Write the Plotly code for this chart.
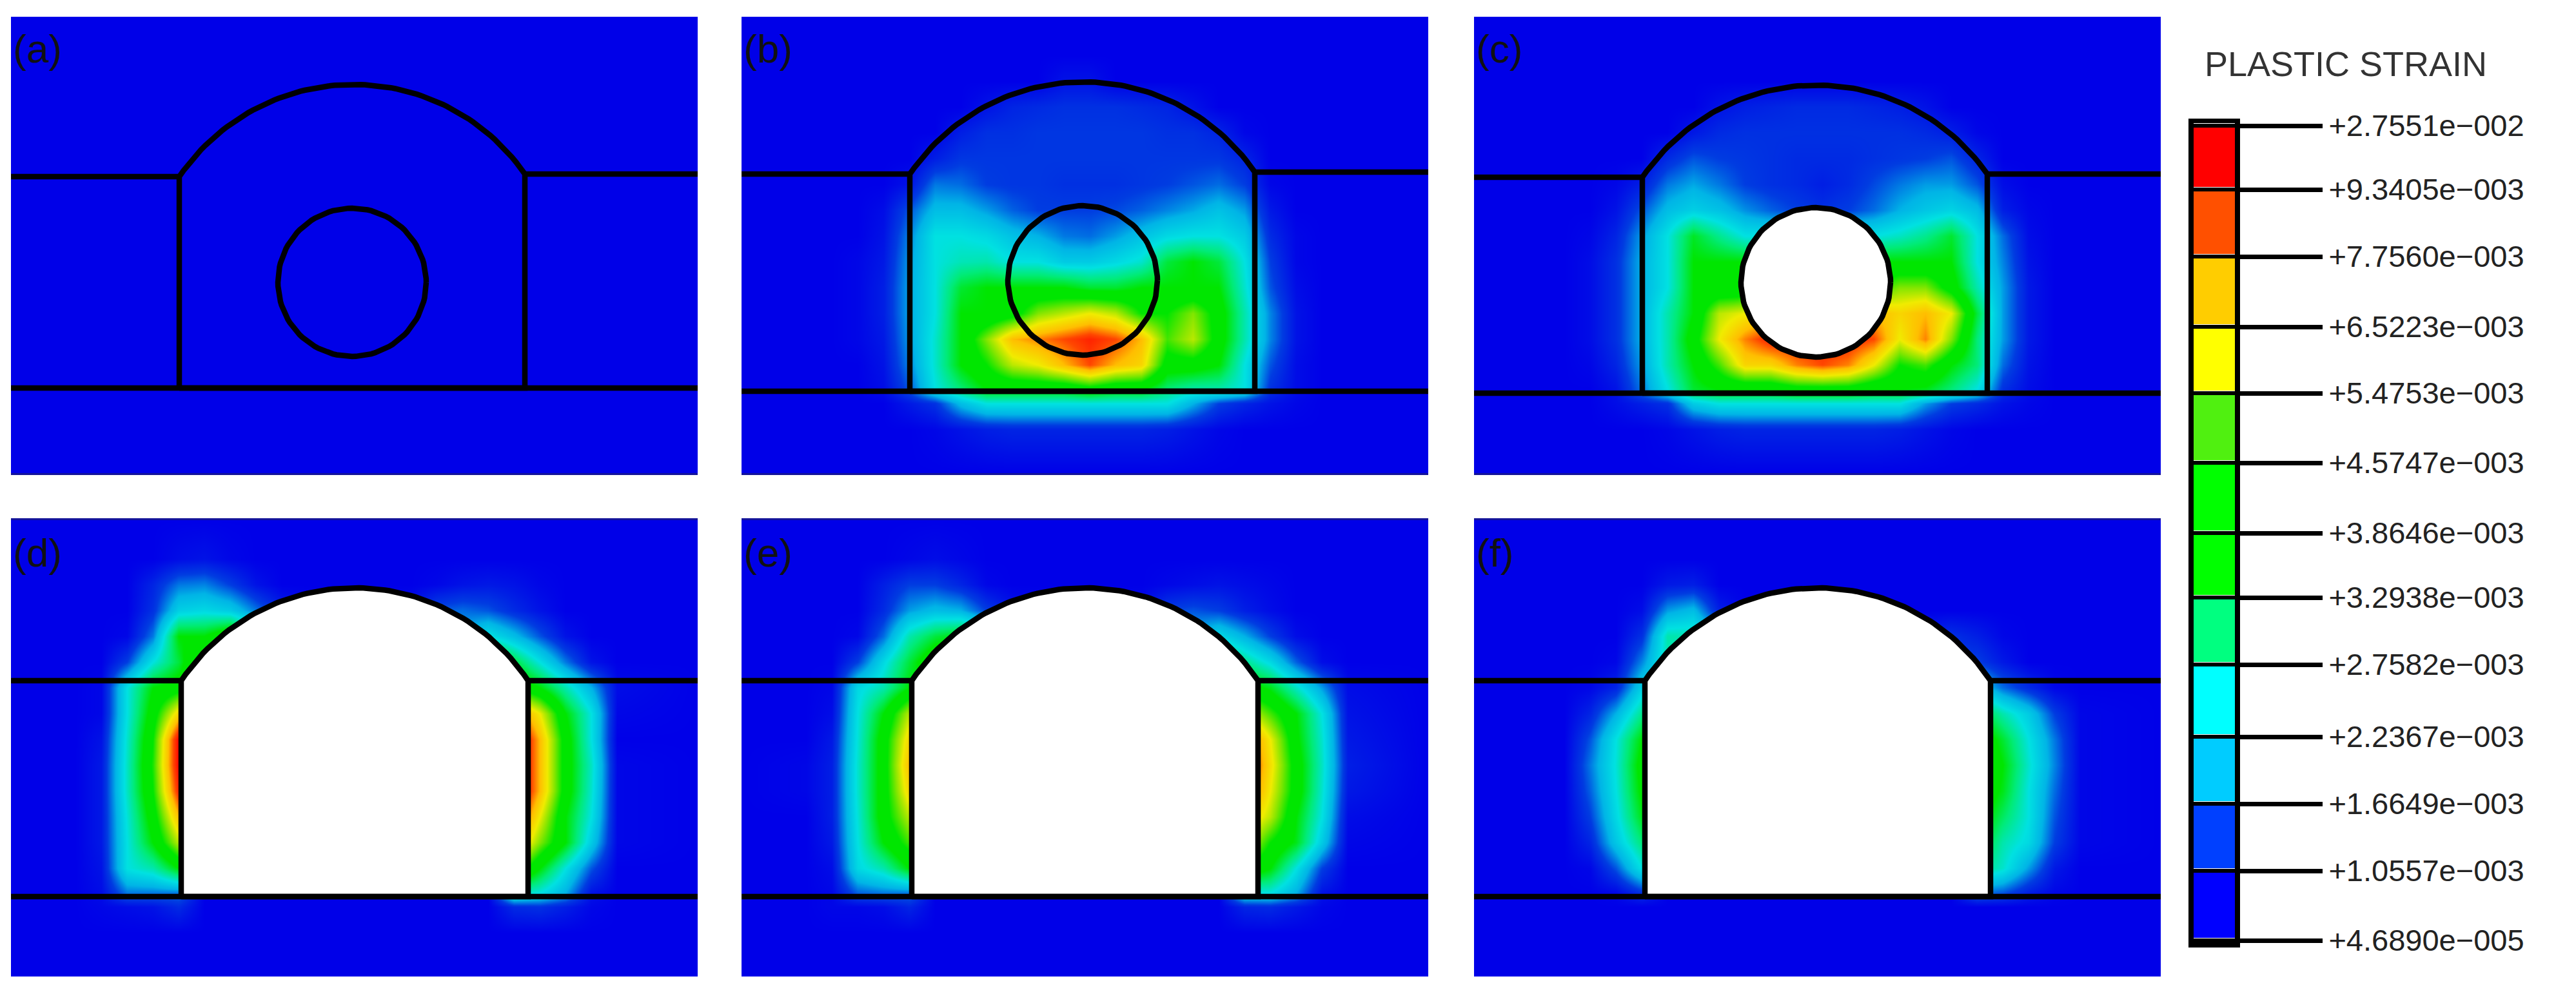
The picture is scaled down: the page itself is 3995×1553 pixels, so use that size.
import numpy as np
import plotly.graph_objects as go

FIG_W, FIG_H = 3995, 1553
PANEL_W, PANEL_H = 1065, 708
PANEL_LEFT = [17, 1150, 2286]
PANEL_TOP = [26, 807]

PANEL_LABELS = ["(a)", "(b)", "(c)", "(d)", "(e)", "(f)"]
LEGEND_TITLE = "PLASTIC STRAIN"
LEGEND_TEXT = ["+2.7551e\u2212002", "+9.3405e\u2212003", "+7.7560e\u2212003", "+6.5223e\u2212003",
               "+5.4753e\u2212003", "+4.5747e\u2212003", "+3.8646e\u2212003", "+3.2938e\u2212003",
               "+2.7582e\u2212003", "+2.2367e\u2212003", "+1.6649e\u2212003", "+1.0557e\u2212003",
               "+4.6890e\u2212005"]
LEGEND_TICK_Y = [195, 294, 398, 507, 610, 718, 827, 927, 1031, 1143, 1247, 1351, 1459]
LEGEND_BANDS = list(range(11, -1, -1))
BAND_COLORS = ["#0000ff", "#0040ff", "#00ccff", "#00ffff", "#00ff80", "#00ff00",
               "#00ff00", "#50f010", "#ffff00", "#ffcd00", "#ff5000", "#ff0000"]
# field colours run a bit darker than the legend in the source image
FIELD_COLORS = ["#0000e8", "#003ce1", "#00b4e6", "#00e1e1", "#00eb78", "#00e600", "#00e600",
                "#82e600", "#f0eb00", "#ffbe00", "#ff4600", "#ff0000", "#ff0000"]

# grid of the strain field, panel pixels; z below is the legend band level (0-12)
GRID_X = [0, 100, 140, 180, 220, 260, 300, 340, 380, 420, 460, 500, 540, 580, 620, 660, 700, 740, 780, 820, 860, 900, 940, 1065]
GRID_Y = [0, 60, 100, 140, 180, 220, 260, 300, 340, 380, 420, 460, 500, 540, 578, 600, 640, 708]
ZERO = [0] * 24

STRAIN_A = [ZERO] * 18

STRAIN_B = [
    ZERO, ZERO,
    [0, 0, 0, 0, 0, 0, 0, 0, 0, 0, 0, .3, .3, 0, 0, 0, 0, 0, 0, 0, 0, 0, 0, 0],
    [0, 0, 0, 0, 0, 0, 0, 0, .3, .6, .7, .8, .8, .8, .7, .6, .3, 0, 0, 0, 0, 0, 0, 0],
    [0, 0, 0, 0, 0, 0, 0, .5, .8, .8, .9, .9, .9, .9, .9, .8, .8, .6, .1, 0, 0, 0, 0, 0],
    [0, 0, 0, 0, 0, 0, .5, .9, .9, .9, .9, .9, .9, .9, .9, .9, .9, .9, .6, 0, 0, 0, 0, 0],
    [0, 0, 0, 0, 0, .3, 1.5, 1.4, 1, .9, .9, .8, .8, .8, .9, 1, 1.2, 1.4, 1, .1, 0, 0, 0, 0],
    [0, 0, 0, 0, .2, 1.2, 2.2, 2.2, 1.8, 1.3, 1, 1, 1, 1.1, 1.3, 1.6, 1.9, 2.3, 1.8, .4, 0, 0, 0, 0],
    [0, 0, 0, 0, .3, 1.6, 3, 3, 2.8, 2.3, 2, 1.5, 1.4, 1.8, 2.3, 2.8, 3, 3, 2.5, .7, .1, 0, 0, 0],
    [0, 0, 0, .1, .4, 1.8, 3, 3.4, 3.5, 3, 3, 2.5, 2.5, 2.8, 3.2, 4.5, 5, 4.5, 3, 1, .1, 0, 0, 0],
    [0, 0, 0, .1, .5, 1.9, 3, 4.6, 5, 5, 5, 5, 4.6, 4.6, 5, 5, 5, 5, 3.2, 1.2, .2, 0, 0, 0],
    [0, 0, 0, .1, .5, 1.9, 3, 5, 5, 5.5, 7, 7.5, 8, 7.5, 6, 6, 7, 5.5, 3.5, 1.6, .3, 0, 0, 0],
    [0, 0, 0, .1, .4, 1.8, 3.2, 5, 7, 9, 9.5, 10, 10.5, 10, 9, 6.5, 7.5, 5.5, 3.5, 1.6, .3, 0, 0, 0],
    [0, 0, 0, 0, .3, 1.6, 3.2, 5, 6, 7.5, 8, 9, 10, 9, 8.5, 5.5, 5.5, 5, 3, 1.2, .2, 0, 0, 0],
    [0, 0, 0, 0, .2, 1.2, 3, 4, 5, 5, 5, 5, 5.5, 5, 5, 4, 3.5, 3.5, 3, .8, .2, 0, 0, 0],
    [0, 0, 0, 0, 0, .4, .8, 2.2, 3, 3, 3, 3, 3, 3, 3, 3, 2, 1, .6, .3, .1, 0, 0, 0],
    [0, 0, 0, 0, 0, 0, .1, .3, .5, .6, .6, .6, .6, .6, .6, .5, .3, .1, 0, 0, 0, 0, 0, 0],
    ZERO,
]

STRAIN_C = [
    ZERO, ZERO, ZERO,
    [0, 0, 0, 0, 0, 0, 0, 0, .3, .5, .6, .7, .7, .7, .6, .5, .3, 0, 0, 0, 0, 0, 0, 0],
    [0, 0, 0, 0, 0, 0, 0, .4, .7, .8, .8, .8, .8, .8, .8, .8, .7, .5, .1, 0, 0, 0, 0, 0],
    [0, 0, 0, 0, 0, 0, .7, 1.2, 1, .9, .8, .7, .7, .7, .8, .9, 1, 1.2, .6, 0, 0, 0, 0, 0],
    [0, 0, 0, 0, .1, .5, 1.5, 1.9, 1.5, 1, .8, .7, .5, .7, 1.1, 1.5, 1.8, 1.8, 1.2, .2, 0, 0, 0, 0],
    [0, 0, 0, 0, .3, 1.2, 2.2, 2.6, 2.3, 1.7, 1.3, 1, .8, 1, 1.4, 2, 2.4, 2.7, 2.2, .5, .1, 0, 0, 0],
    [0, 0, 0, .1, .6, 1.8, 3, 4.7, 3.8, 3, 3, 3, 3, 3, 3, 3.3, 3.8, 4.6, 3, 1.4, .2, 0, 0, 0],
    [0, 0, 0, .2, .8, 2, 3, 5, 5, 5, 4.5, 4.5, 4.5, 4.5, 5, 5, 5, 5, 3, 1.6, .3, 0, 0, 0],
    [0, 0, 0, .2, .8, 2, 3, 5, 5, 5, 5, 5, 5, 5, 6, 7, 7, 5.5, 3.5, 1.8, .4, 0, 0, 0],
    [0, 0, 0, .2, .8, 2, 3.5, 5, 7.5, 8, 8.5, 8.5, 8.5, 8.5, 9, 8.5, 9, 8, 4.5, 1.8, .4, 0, 0, 0],
    [0, 0, 0, .2, .8, 2, 3.5, 5.5, 8, 9.5, 10.5, 10.5, 10.5, 10.5, 10, 8, 9.5, 7, 4, 1.8, .4, 0, 0, 0],
    [0, 0, 0, .1, .6, 1.8, 3.5, 5, 6.5, 8.5, 8.5, 9.5, 10, 9.5, 8, 6, 6.5, 5, 4, 1.4, .3, 0, 0, 0],
    [0, 0, 0, 0, .3, 1.5, 3, 4.6, 5, 5, 5, 5.5, 5.5, 5.5, 5, 5, 4.8, 4, 3, .8, .2, 0, 0, 0],
    [0, 0, 0, 0, .2, .5, .8, 2.5, 3, 3, 3, 3, 3, 3, 3, 3, 1.8, 1, .7, .3, .1, 0, 0, 0],
    [0, 0, 0, 0, 0, 0, .1, .3, .5, .6, .6, .6, .6, .6, .6, .5, .3, .1, 0, 0, 0, 0, 0, 0],
    ZERO,
]

STRAIN_D = [
    ZERO,
    [0, 0, 0, 0, 0, .2, .3, .1, 0, 0, 0, 0, 0, 0, 0, 0, 0, 0, 0, 0, 0, 0, 0, 0],
    [0, 0, 0, 0, .6, 1.5, 1.6, 1, .3, 0, 0, 0, 0, 0, 0, .1, .3, .4, .3, .1, 0, 0, 0, 0],
    [0, 0, 0, 0, .8, 2.6, 2.8, 2.5, 1.5, .5, .1, 0, 0, .1, .3, 1.2, 1.4, 1.2, .7, .3, 0, 0, 0, 0],
    [0, 0, 0, .1, 1.5, 5, 5, 6, 4, 2, 1, 1, 1, 1, 1, 1, 2, 3, 2.2, 1.2, .3, 0, 0, 0],
    [0, 0, 0, 1, 3, 4.5, 7, 7, 0, 0, 0, 0, 0, 0, 0, 0, 0, 6, 4.5, 3, 1.5, .3, 0, 0],
    [0, 0, .1, 3, 5, 5.5, 6, 0, 0, 0, 0, 0, 0, 0, 0, 0, 0, 0, 6, 5, 3.5, 2, .2, 0],
    [0, 0, .1, 3, 5.5, 8.5, 0, 0, 0, 0, 0, 0, 0, 0, 0, 0, 0, 0, 10, 8, 5, 3, .1, 0],
    [0, 0, .3, 3.2, 6, 11, 0, 0, 0, 0, 0, 0, 0, 0, 0, 0, 0, 0, 12, 9, 5.5, 3, 0, 0],
    [0, 0, .4, 3.3, 6.2, 11, 0, 0, 0, 0, 0, 0, 0, 0, 0, 0, 0, 0, 12, 9, 5.5, 3.3, .1, 0],
    [0, 0, .4, 3.3, 6, 10.5, 0, 0, 0, 0, 0, 0, 0, 0, 0, 0, 0, 0, 12, 9, 5.5, 3.2, .1, 0],
    [0, 0, .4, 3.1, 5.5, 9, 0, 0, 0, 0, 0, 0, 0, 0, 0, 0, 0, 0, 11, 8, 5, 3, .1, 0],
    [0, 0, .4, 3, 5, 7.5, 0, 0, 0, 0, 0, 0, 0, 0, 0, 0, 0, 0, 9.5, 7, 5, 2.5, .1, 0],
    [0, 0, .3, 3, 3.5, 5, 0, 0, 0, 0, 0, 0, 0, 0, 0, 0, 0, 0, 7, 5, 3, 1.2, 0, 0],
    [0, 0, .2, 1.5, 1.5, 1.5, 0, 0, 0, 0, 0, 0, 0, 0, 0, 0, 0, 0, 3.5, 3, 2, .3, 0, 0],
    [0, 0, .1, .2, .3, .7, 0, 0, 0, 0, 0, 0, 0, 0, 0, 0, 0, 0, .7, .8, .5, .1, 0, 0],
    ZERO, ZERO,
]

STRAIN_E = [
    ZERO,
    [0, 0, 0, 0, 0, .1, .2, .1, 0, 0, 0, 0, 0, 0, 0, 0, 0, 0, 0, 0, 0, 0, 0, 0],
    [0, 0, 0, 0, .5, 1, 1, .6, .1, 0, 0, 0, 0, 0, 0, .1, .2, .3, .2, .1, 0, 0, 0, 0],
    [0, 0, 0, 0, .7, 1.8, 2.2, 2, 1, .3, .1, 0, 0, .1, .2, 1, 1.2, 1, .5, .2, 0, 0, 0, 0],
    [0, 0, 0, .1, 1.4, 3.5, 4.5, 5, 4, 2, 1, 1, 1, 1, 1, 1, 2, 2.8, 2, 1, .2, 0, 0, 0],
    [0, 0, 0, 1, 2.8, 4.5, 6, 6, 0, 0, 0, 0, 0, 0, 0, 0, 0, 5, 3.8, 2.8, 1.3, .2, 0, 0],
    [0, 0, .1, 2.8, 3.5, 5, 5, 0, 0, 0, 0, 0, 0, 0, 0, 0, 0, 0, 5.5, 4.8, 3.3, 1.8, .2, 0],
    [0, 0, .2, 3, 5, 7.5, 0, 0, 0, 0, 0, 0, 0, 0, 0, 0, 0, 0, 8, 6.5, 5, 3, .3, 0],
    [0, 0, .4, 3.1, 5.5, 8.5, 0, 0, 0, 0, 0, 0, 0, 0, 0, 0, 0, 0, 10.5, 8, 5.2, 3.2, .4, 0],
    [0, .1, .5, 3.2, 5.5, 9, 0, 0, 0, 0, 0, 0, 0, 0, 0, 0, 0, 0, 11, 8.3, 5.5, 3.3, .5, 0],
    [0, .1, .5, 3.2, 5.5, 8.5, 0, 0, 0, 0, 0, 0, 0, 0, 0, 0, 0, 0, 10.5, 8, 5.5, 3.2, .4, 0],
    [0, 0, .5, 3.1, 5.5, 7.5, 0, 0, 0, 0, 0, 0, 0, 0, 0, 0, 0, 0, 9, 7.5, 5, 3, .2, 0],
    [0, 0, .4, 3, 5, 6.5, 0, 0, 0, 0, 0, 0, 0, 0, 0, 0, 0, 0, 8, 6, 4.8, 2.5, .1, 0],
    [0, 0, .2, 2.8, 3.5, 5, 0, 0, 0, 0, 0, 0, 0, 0, 0, 0, 0, 0, 6, 5, 3, 1, 0, 0],
    [0, 0, .1, 1.3, 1.5, 1.5, 0, 0, 0, 0, 0, 0, 0, 0, 0, 0, 0, 0, 3, 3, 2, .3, 0, 0],
    [0, 0, .1, .1, .2, .6, 0, 0, 0, 0, 0, 0, 0, 0, 0, 0, 0, 0, .6, .7, .4, .1, 0, 0],
    ZERO, ZERO,
]

STRAIN_F = [
    ZERO, ZERO,
    [0, 0, 0, 0, 0, 0, .4, .5, 0, 0, 0, 0, 0, 0, 0, 0, 0, 0, 0, 0, 0, 0, 0, 0],
    [0, 0, 0, 0, 0, .2, 1.8, 2.2, .5, 0, 0, 0, 0, 0, 0, 0, 0, 0, 0, 0, 0, 0, 0, 0],
    [0, 0, 0, 0, 0, .8, 3.5, 3.5, 2, 1, 0, 0, 0, 0, 0, 0, .5, .8, .5, .1, 0, 0, 0, 0],
    [0, 0, 0, 0, .1, 1.6, 3.5, 3, 0, 0, 0, 0, 0, 0, 0, 0, 0, 1, 1, .4, 0, 0, 0, 0],
    [0, 0, 0, .1, .6, 2.6, 3, 0, 0, 0, 0, 0, 0, 0, 0, 0, 0, 0, 2.6, 1.4, .7, .1, 0, 0],
    [0, 0, 0, .6, 2, 3.8, 0, 0, 0, 0, 0, 0, 0, 0, 0, 0, 0, 0, 4.8, 3.5, 2.5, 1, .1, 0],
    [0, 0, 0, 1.2, 3, 5, 0, 0, 0, 0, 0, 0, 0, 0, 0, 0, 0, 0, 6, 4.6, 3, 1.5, .1, 0],
    [0, 0, 0, 1.5, 3.1, 5.4, 0, 0, 0, 0, 0, 0, 0, 0, 0, 0, 0, 0, 6.5, 5, 3.2, 1.6, .1, 0],
    [0, 0, 0, 1.3, 3, 5.2, 0, 0, 0, 0, 0, 0, 0, 0, 0, 0, 0, 0, 6, 4.8, 3, 1.4, .1, 0],
    [0, 0, 0, 1, 2.8, 4.8, 0, 0, 0, 0, 0, 0, 0, 0, 0, 0, 0, 0, 5.5, 4.2, 3, 1.2, .1, 0],
    [0, 0, 0, .6, 2.4, 4, 0, 0, 0, 0, 0, 0, 0, 0, 0, 0, 0, 0, 5, 3.5, 2.8, 1, .1, 0],
    [0, 0, 0, .1, 1.2, 3, 0, 0, 0, 0, 0, 0, 0, 0, 0, 0, 0, 0, 4, 3.2, 1.8, .4, 0, 0],
    [0, 0, 0, 0, .1, .8, 0, 0, 0, 0, 0, 0, 0, 0, 0, 0, 0, 0, 1.5, 1.2, .5, .1, 0, 0],
    ZERO, ZERO, ZERO,
]
STRAIN_FIELDS = [STRAIN_A, STRAIN_B, STRAIN_C, STRAIN_D, STRAIN_E, STRAIN_F]

# tunnel outline per panel
WALL_LEFT = [261, 261, 261, 264, 264, 265]
WALL_RIGHT = [797, 796, 796, 802, 801, 801]
SPRING_LEFT = [248, 244, 249, 249, 249, 249]
SPRING_RIGHT = [244, 241, 244, 249, 249, 249]
CROWN = [105, 101, 106, 105, 105, 105]
FLOOR = [576, 581, 584, 584, 584, 584]
# pilot hole only in (a)-(c): centre x, centre y, radius
HOLE_X = [529, 529, 530]
HOLE_Y = [412, 409, 412]
HOLE_R = [115, 116, 116]
OPEN_TUNNEL = [False, False, False, True, True, True]


def arch_points(i):
    xl, xr = WALL_LEFT[i], WALL_RIGHT[i]
    half = (xr - xl) / 2
    base = (SPRING_LEFT[i] + SPRING_RIGHT[i]) / 2
    rise = base - CROWN[i]
    radius = (half ** 2 + rise ** 2) / (2 * rise)
    xs = np.linspace(xl, xr, 81)
    lift = np.sqrt(radius ** 2 - (xs - (xl + xr) / 2) ** 2) - (radius - rise)
    tilt = SPRING_LEFT[i] + (SPRING_RIGHT[i] - SPRING_LEFT[i]) * (xs - xl) / (xr - xl)
    return xs, tilt - lift


def stepped(colors):
    n = len(colors)
    scale = []
    for k, c in enumerate(colors):
        scale += [[k / n, c], [(k + 1) / n, c]]
    return scale


field_scale = [[k / 12, c] for k, c in enumerate(FIELD_COLORS)]
line = dict(color="black", width=8.5)

fig = go.Figure()
layout = {}
annotations = []

for i in range(6):
    n = i + 1
    col, row = i % 3, i // 3
    xa, ya = f"x{n}", f"y{n}"
    left, top = PANEL_LEFT[col], PANEL_TOP[row]

    fig.add_trace(go.Heatmap(x=GRID_X, y=GRID_Y, z=STRAIN_FIELDS[i], zmin=0, zmax=12, zsmooth="best",
                             colorscale=field_scale, showscale=False, hoverinfo="skip", xaxis=xa, yaxis=ya))

    ax, ay = arch_points(i)
    xl, xr = WALL_LEFT[i], WALL_RIGHT[i]
    outline_x = [xl] + list(ax) + [xr, xl]
    outline_y = [FLOOR[i]] + list(ay) + [FLOOR[i], FLOOR[i]]
    if OPEN_TUNNEL[i]:
        fig.add_trace(go.Scatter(x=outline_x, y=outline_y, fill="toself", fillcolor="white", mode="none",
                                 hoverinfo="skip", xaxis=xa, yaxis=ya))
    fig.add_trace(go.Scatter(x=outline_x, y=outline_y, mode="lines", line=line, hoverinfo="skip", xaxis=xa, yaxis=ya))
    # ground lines either side of the tunnel and along the floor
    fig.add_trace(go.Scatter(x=[0, xl], y=[SPRING_LEFT[i], SPRING_LEFT[i]], mode="lines", line=line,
                             hoverinfo="skip", xaxis=xa, yaxis=ya))
    fig.add_trace(go.Scatter(x=[xr, PANEL_W], y=[SPRING_RIGHT[i], SPRING_RIGHT[i]], mode="lines", line=line,
                             hoverinfo="skip", xaxis=xa, yaxis=ya))
    fig.add_trace(go.Scatter(x=[0, PANEL_W], y=[FLOOR[i], FLOOR[i]], mode="lines", line=line,
                             hoverinfo="skip", xaxis=xa, yaxis=ya))

    if i < 3:
        t = np.linspace(0, 2 * np.pi, 121)
        hx = HOLE_X[i] + HOLE_R[i] * np.cos(t)
        hy = HOLE_Y[i] + HOLE_R[i] * np.sin(t)
        if i == 2:
            fig.add_trace(go.Scatter(x=hx, y=hy, fill="toself", fillcolor="white", mode="none",
                                     hoverinfo="skip", xaxis=xa, yaxis=ya))
        fig.add_trace(go.Scatter(x=hx, y=hy, mode="lines", line=line, hoverinfo="skip", xaxis=xa, yaxis=ya))

    layout[f"xaxis{n}"] = dict(domain=[left / FIG_W, (left + PANEL_W) / FIG_W], range=[0, PANEL_W], anchor=ya,
                               side="bottom" if row == 0 else "top", showline=True, linecolor="#14149a", linewidth=3,
                               showgrid=False, zeroline=False, ticks="", showticklabels=False, automargin=False)
    layout[f"yaxis{n}"] = dict(domain=[1 - (top + PANEL_H) / FIG_H, 1 - top / FIG_H], range=[PANEL_H, 0], anchor=xa,
                               showgrid=False, zeroline=False, ticks="", showticklabels=False, automargin=False)
    annotations.append(dict(text=PANEL_LABELS[i], xref=xa, yref=ya, x=1, y=50, xanchor="left", yanchor="middle",
                            showarrow=False, font=dict(family="Liberation Sans", size=62, color="#111111")))

# legend bar: its own axes, long black ticks carry the labels
fig.add_trace(go.Heatmap(x=[0, 1], y=LEGEND_TICK_Y, z=[[b] for b in LEGEND_BANDS], zmin=0, zmax=12, ygap=7,
                         colorscale=stepped(BAND_COLORS + [BAND_COLORS[-1]]), showscale=False, hoverinfo="skip",
                         xaxis="x7", yaxis="y7"))
layout["xaxis7"] = dict(domain=[3402 / FIG_W, 3466 / FIG_W], range=[0, 1], anchor="y7", showgrid=False,
                        zeroline=False, ticks="", showticklabels=False, showline=True, linecolor="black",
                        linewidth=7, mirror=True, automargin=False)
layout["yaxis7"] = dict(domain=[1 - 1463 / FIG_H, 1 - 191 / FIG_H], range=[1463, 191], anchor="x7", side="right",
                        tickmode="array", tickvals=LEGEND_TICK_Y, ticktext=LEGEND_TEXT, ticks="outside", ticklen=128,
                        tickwidth=7, tickcolor="black", showline=True, linecolor="black", linewidth=8, mirror=True,
                        showgrid=True, gridcolor="black", gridwidth=7, zeroline=False, automargin=False,
                        tickfont=dict(family="Liberation Sans", size=47, color="#222222"))
annotations.append(dict(text=LEGEND_TITLE, xref="paper", yref="paper", x=3417 / FIG_W, y=1 - 99 / FIG_H,
                        xanchor="left", yanchor="middle", showarrow=False,
                        font=dict(family="Liberation Sans", size=54, color="#333333")))

fig.update_layout(width=FIG_W, height=FIG_H, margin=dict(l=0, r=0, t=0, b=0), paper_bgcolor="white",
                  plot_bgcolor="white", showlegend=False, annotations=annotations, **layout)

fig.write_html("out.html", config={"displayModeBar": False},
               post_script="document.body.style.margin='0';")
